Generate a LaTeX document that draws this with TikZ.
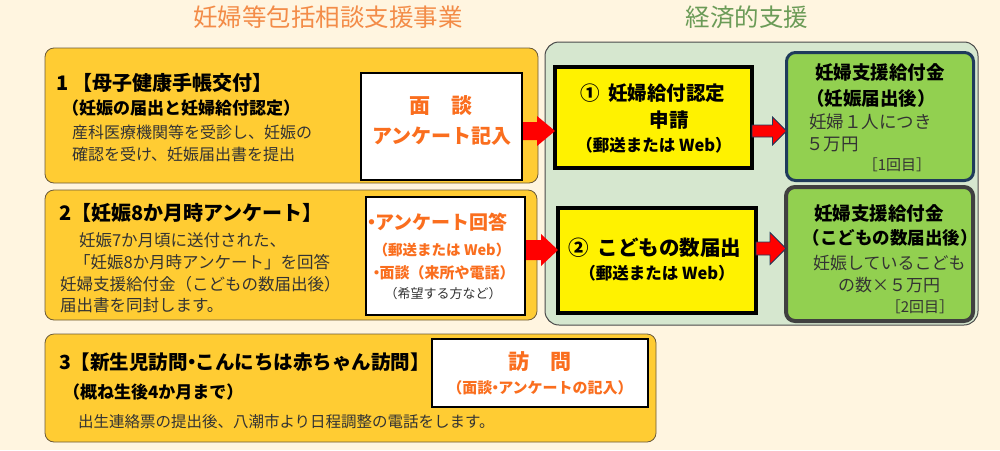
\documentclass[tikz,border=0pt]{standalone}
\usepackage{fontspec}
\setmainfont{Noto Sans CJK JP}
\usetikzlibrary{calc}
\definecolor{cream}{HTML}{FFF5E0}
\definecolor{gold}{HTML}{FFCC33}
\definecolor{goldline}{HTML}{6B5A3A}
\definecolor{cont}{HTML}{D6E7CF}
\definecolor{contline}{HTML}{4A4A4A}
\definecolor{grn}{HTML}{92D050}
\definecolor{navy}{HTML}{1F3B5B}
\definecolor{dgray}{HTML}{404040}
\definecolor{orng}{HTML}{FA6E1E}
\definecolor{tor}{HTML}{F38C48}
\definecolor{tgr}{HTML}{6B9B57}
\definecolor{txtgray}{HTML}{333333}
\definecolor{arred}{HTML}{FF0000}
\newcommand\myarrow[6]{%
  \path[#1] ($(#2)+(0,-#4)$) -- ($(#3)+(-#6,-#4)$) -- ($(#3)+(-#6,-#5)$) -- (#3)
    -- ($(#3)+(-#6,#5)$) -- ($(#3)+(-#6,#4)$) -- ($(#2)+(0,#4)$) -- cycle;}
\newcommand\tdot{\hspace*{-0.3em}・\hspace{-0.3em}}
\begin{document}
\begin{tikzpicture}[x=1pt,y=-1pt,
  fs/.style={font=\fontsize{#1}{#1}\selectfont},
  fb/.style={font=\fontsize{#1}{#1}\selectfont\bfseries},
  tx/.style={inner sep=0pt, outer sep=0pt},
  box/.style={inner sep=0pt, outer sep=0pt, anchor=north west},
  goldbox/.style={box, fill=gold, draw=goldline, line width=0.8pt, rounded corners=9pt},
  whitebox/.style={box, fill=white, draw=black, line width=1.3pt},
  contbox/.style={box, fill=cont, draw=contline, line width=1pt, rounded corners=14pt},
  yelbox/.style={box, fill=yellow, draw=black, line width=4pt},
  grnbox/.style={box, fill=grn, rounded corners=9pt},
  leftarrow/.style={fill=arred},
  rightarrow/.style={fill=arred, draw=navy, line width=0.8pt, line join=miter},
]
\useasboundingbox (0,0) rectangle (1000,450);
\fill[cream] (0,0) rectangle (1000,450);

% titles
\node[tx, fs=24.5, text=tor] (t1) at (328,17) {妊婦等包括相談支援事業};
\node[tx, fs=24.5, text=tgr] (t2) at (747,17) {経済的支援};

% gold boxes
\node[goldbox, minimum width=493pt, minimum height=135pt] (b1) at (45,48) {};
\node[goldbox, minimum width=492pt, minimum height=130pt] (b2) at (45,190) {};
\node[goldbox, minimum width=611pt, minimum height=108pt] (b3) at (45,334) {};

% container
\node[contbox, minimum width=433pt, minimum height=283pt] (c) at (545,42) {};

% white boxes
\node[whitebox, minimum width=161pt, minimum height=107pt] (w1) at (361,73) {};
\node[whitebox, minimum width=159pt, minimum height=118pt] (w2) at (366,197) {};
\node[whitebox, line width=2pt, minimum width=216pt, minimum height=68pt] (w3) at (432,339) {};

% yellow boxes (shape boundary, border 4pt)
\node[yelbox, minimum width=197pt, minimum height=101pt] (y1) at (555,67) {};
\node[yelbox, minimum width=198pt, minimum height=105pt] (y2) at (558,208) {};

% arrows
\coordinate (la1s) at (523,131);
\coordinate (la1e) at (la1s -| y1.west);
\myarrow{leftarrow}{la1s}{la1e}{9}{15}{18}
\coordinate (la2s) at (526,250);
\coordinate (la2e) at (la2s -| y2.west);
\myarrow{leftarrow}{la2s}{la2e}{10}{16}{17}

% green boxes
\node[grnbox, draw=navy, line width=3pt, minimum width=187pt, minimum height=128pt] (g1) at (786.5,52.5) {};
\node[grnbox, draw=dgray, line width=4pt, minimum width=187pt, minimum height=134pt] (g2) at (786,187) {};

\coordinate (ra1s) at (y1.east |- 0,131);
\coordinate (ra1e) at (ra1s -| g1.west);
\myarrow{rightarrow}{ra1s}{ra1e}{6}{14}{14}
\coordinate (ra2s) at (y2.east |- 0,248.5);
\coordinate (ra2e) at (ra2s -| g2.west);
\myarrow{rightarrow}{ra2s}{ra2e}{6.5}{16}{16}

% box 1 text
\node[tx, fb=20, anchor=west] (b1l1) at (56,83) {1 【母子健康手帳交付】};
\node[tx, fb=17, anchor=west] (b1l2) at (62,108) {（妊娠の届出と妊婦給付認定）};
\node[tx, fs=16, text=txtgray, anchor=west] (b1l3) at (72,132) {産科医療機関等を受診し、妊娠の};
\node[tx, fs=16, text=txtgray, anchor=west] (b1l4) at (72,154) {確認を受け、妊娠届出書を提出};
\node[tx, fb=21, text=orng] (w1l1) at (441,106) {面　談};
\node[tx, fb=20, text=orng] (w1l2) at (442,136) {アンケート記入};

% box 2 text
\node[tx, fb=20, anchor=west] (b2l1) at (59,213) {2【妊娠8か月時アンケート】};
\node[tx, fs=16.5, text=txtgray, anchor=west] (b2l2) at (79,240) {妊娠7か月頃に送付された、};
\node[tx, fs=16.5, text=txtgray, anchor=west] (b2l3) at (74,262) {「妊娠8か月時アンケート」を回答};
\node[tx, fs=16.5, text=txtgray, anchor=west] (b2l4) at (60,284) {妊婦支援給付金（こどもの数届出後）};
\node[tx, fs=16.5, text=txtgray, anchor=west] (b2l5) at (60,305) {届出書を同封します。};
\node[tx, fb=19, text=orng] (w2l1) at (438,222) {\tdot アンケート回答};
\node[tx, fb=14.5, text=orng] (w2l2) at (442,250) {（郵送または Web）};
\node[tx, fb=15, text=orng] (w2l3) at (444,273) {\tdot 面談（来所や電話）};
\node[tx, fs=13, text=txtgray] (w2l4) at (443,294) {（希望する方など）};

% box 3 text
\node[tx, fb=19.5, anchor=west] (b3l1) at (59,362) {3【新生児訪問\tdot こんにちは赤ちゃん訪問】};
\node[tx, fb=17, anchor=west] (b3l2) at (63,392) {（概ね生後4か月まで）};
\node[tx, fs=15.5, text=txtgray, anchor=west] (b3l3) at (78,422) {出生連絡票の提出後、八潮市より日程調整の電話をします。};
\node[tx, fb=21, text=orng] (w3l1) at (540,362) {訪　問};
\node[tx, fb=15, text=orng] (w3l2) at (540,388) {（面談\tdot アンケートの記入）};

% yellow texts
\node[tx, fb=19.5] (y1l1) at (653,93) {①\hspace{0.4em}妊婦給付認定};
\node[tx, fb=19.5] (y1l2) at (669,120) {申請};
\node[tx, fb=16.5] (y1l3) at (654,145) {（郵送または Web）};
\node[tx, fb=20.5] (y2l1) at (655,248) {②\hspace{0.4em}こどもの数届出};
\node[tx, fb=16.5] (y2l2) at (657,273) {（郵送または Web）};

% green texts
\node[tx, fb=18.5] (g1l1) at (880,72) {妊婦支援給付金};
\node[tx, fb=18.5] (g1l2) at (871,98) {（妊娠届出後）};
\node[tx, fs=17.5, text=txtgray, anchor=west] (g1l3) at (809,122) {妊婦１人につき};
\node[tx, fs=17.5, text=txtgray, anchor=west] (g1l4) at (806,144) {５万円};
\node[tx, fs=15, text=txtgray] (g1l5) at (897,165) {［1回目］};
\node[tx, fb=18.5] (g2l1) at (879,213) {妊婦支援給付金};
\node[tx, fb=17.5] (g2l2) at (890,238) {（こどもの数届出後）};
\node[tx, fs=17, text=txtgray, anchor=west] (g2l3) at (813,263) {妊娠しているこども};
\node[tx, fs=17, text=txtgray, anchor=west] (g2l4) at (838,285) {の数×５万円};
\node[tx, fs=15, text=txtgray] (g2l5) at (920,307) {［2回目］};
\end{tikzpicture}
\end{document}
